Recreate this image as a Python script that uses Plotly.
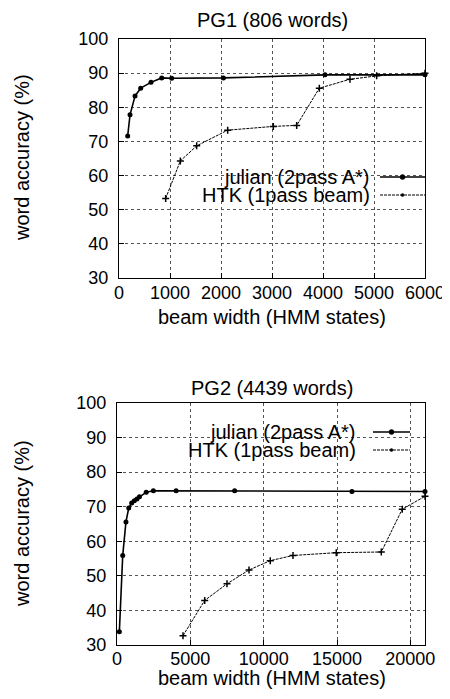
import plotly.graph_objects as go

# ---------------- data ----------------
pg1_julian_x = [170, 216, 314, 425, 627, 837, 1033, 2046, 4039, 6000]
pg1_julian_y = [71.6, 77.8, 83.3, 85.6, 87.3, 88.6, 88.5, 88.6, 89.5, 89.5]
pg1_htk_x = [915, 1203, 1523, 2131, 3026, 3484, 3928, 4529, 5052, 6000]
pg1_htk_y = [53.3, 64.3, 68.7, 73.3, 74.4, 74.7, 85.6, 88.2, 89.2, 90.0]

pg2_julian_x = [160, 390, 610, 800, 1000, 1180, 1360, 1530, 1990, 2480, 4030, 8020, 16020, 21000]
pg2_julian_y = [33.8, 55.9, 65.6, 69.6, 71.1, 71.7, 72.2, 72.9, 74.2, 74.6, 74.6, 74.6, 74.4, 74.4]
pg2_htk_x = [4500, 5980, 7500, 9000, 10450, 12000, 14950, 18020, 19450, 21000]
pg2_htk_y = [32.7, 42.9, 47.7, 51.7, 54.4, 55.9, 56.7, 56.9, 69.3, 73.0]

titles = ["PG1 (806 words)", "PG2 (4439 words)"]
legend_names = ["julian (2pass A*)", "HTK (1pass beam)"]
x_title = "beam width (HMM states)"
y_title = "word accuracy (%)"
pg1_xticks = [0, 1000, 2000, 3000, 4000, 5000, 6000]
pg2_xticks = [0, 5000, 10000, 15000, 20000]
yticks = [30, 40, 50, 60, 70, 80, 90, 100]

# ---------------- layout geometry (pixels) ----------------
OFF = 8  # page body margin
W, H = 450 - OFF, 699 - OFF
FONT = "Liberation Sans, Arial, Helvetica, sans-serif"


def px_x(p):
    return (p - OFF) / W


def px_y(p):
    return 1 - (p - OFF) / H


fig = go.Figure()

fig.add_trace(go.Scatter(x=pg1_julian_x, y=pg1_julian_y, mode="lines+markers",
                         line=dict(color="black", width=1.6),
                         marker=dict(symbol="circle", size=5, color="black"),
                         xaxis="x", yaxis="y", showlegend=False, cliponaxis=False))
fig.add_trace(go.Scatter(x=pg1_htk_x, y=pg1_htk_y, mode="lines+markers",
                         line=dict(color="black", width=1, dash="3px,1px"),
                         marker=dict(symbol="cross-thin", size=5, line=dict(color="black", width=1.5)),
                         xaxis="x", yaxis="y", showlegend=False, cliponaxis=False))
fig.add_trace(go.Scatter(x=pg2_julian_x, y=pg2_julian_y, mode="lines+markers",
                         line=dict(color="black", width=1.6),
                         marker=dict(symbol="circle", size=5, color="black"),
                         xaxis="x2", yaxis="y2", showlegend=False, cliponaxis=False))
fig.add_trace(go.Scatter(x=pg2_htk_x, y=pg2_htk_y, mode="lines+markers",
                         line=dict(color="black", width=1, dash="3px,1px"),
                         marker=dict(symbol="cross-thin", size=5, line=dict(color="black", width=1.5)),
                         xaxis="x2", yaxis="y2", showlegend=False, cliponaxis=False))

axis_common = dict(showline=True, linecolor="black", linewidth=1.3, mirror=True,
                   ticks="inside", ticklen=5, tickcolor="black", automargin=False,
                   showgrid=True, gridcolor="#555", gridwidth=0.8, griddash="dot",
                   zeroline=False, tickformat="d",
                   tickfont=dict(family=FONT, size=18, color="black"))

fig.update_layout(
    width=W, height=H,
    margin=dict(l=0, r=0, t=0, b=0),
    paper_bgcolor="white", plot_bgcolor="white",
    xaxis=dict(domain=[px_x(119), px_x(425)], range=[0, 6000], tickvals=pg1_xticks,
               anchor="y", ticklabelstandoff=-2, **axis_common),
    yaxis=dict(domain=[px_y(278), px_y(39)], range=[30, 100], tickvals=yticks,
               anchor="x", ticklabelstandoff=6, **axis_common),
    xaxis2=dict(domain=[px_x(117), px_x(425)], range=[0, 21000], tickvals=pg2_xticks,
                anchor="y2", ticklabelstandoff=-3, **axis_common),
    yaxis2=dict(domain=[px_y(645), px_y(403)], range=[30, 100], tickvals=yticks,
                anchor="x2", ticklabelstandoff=6, **axis_common),
)

tfont = dict(family=FONT, size=20, color="black")
ann = []
# titles
ann.append(dict(text=titles[0], x=px_x(272), y=px_y(20), xref="paper", yref="paper",
                xanchor="center", yanchor="middle", showarrow=False, font=tfont))
ann.append(dict(text=titles[1], x=px_x(272), y=px_y(388), xref="paper", yref="paper",
                xanchor="center", yanchor="middle", showarrow=False, font=tfont))
# x titles
ann.append(dict(text=x_title, x=px_x(272), y=px_y(317), xref="paper", yref="paper",
                xanchor="center", yanchor="middle", showarrow=False, font=tfont))
ann.append(dict(text=x_title, x=px_x(272), y=px_y(678), xref="paper", yref="paper",
                xanchor="center", yanchor="middle", showarrow=False, font=tfont))
# y titles
ann.append(dict(text=y_title, x=px_x(22), y=px_y(158), xref="paper", yref="paper",
                xanchor="center", yanchor="middle", showarrow=False, textangle=-90, font=tfont))
ann.append(dict(text=y_title, x=px_x(22), y=px_y(524), xref="paper", yref="paper",
                xanchor="center", yanchor="middle", showarrow=False, textangle=-90, font=tfont))

shapes = []


def add_legend(text_right, sample_x0, sample_x1, rows_y):
    for i, (name, ry) in enumerate(zip(legend_names, rows_y)):
        ann.append(dict(text=name, x=px_x(text_right), y=px_y(ry), xref="paper", yref="paper",
                        xanchor="right", yanchor="middle", showarrow=False, font=tfont,
                        bgcolor="rgba(0,0,0,0)"))
        shapes.append(dict(type="line", xref="paper", yref="paper",
                           x0=px_x(sample_x0), x1=px_x(sample_x1), y0=px_y(ry), y1=px_y(ry),
                           line=dict(color="black", width=1.6 if i == 0 else 1,
                                     dash="solid" if i == 0 else "3px,1px")))
        xm = (sample_x0 + sample_x1) / 2
        r = 2.5 if i == 0 else 1.5
        shapes.append(dict(type="circle", xref="paper", yref="paper",
                           x0=px_x(xm - r), x1=px_x(xm + r), y0=px_y(ry + r), y1=px_y(ry - r),
                           fillcolor="black", line=dict(color="black", width=0.5)))


add_legend(372, 380, 425, [177, 195])
add_legend(358, 373, 410, [432, 450])

fig.update_layout(annotations=ann, shapes=shapes)

fig.write_html("out.html")
